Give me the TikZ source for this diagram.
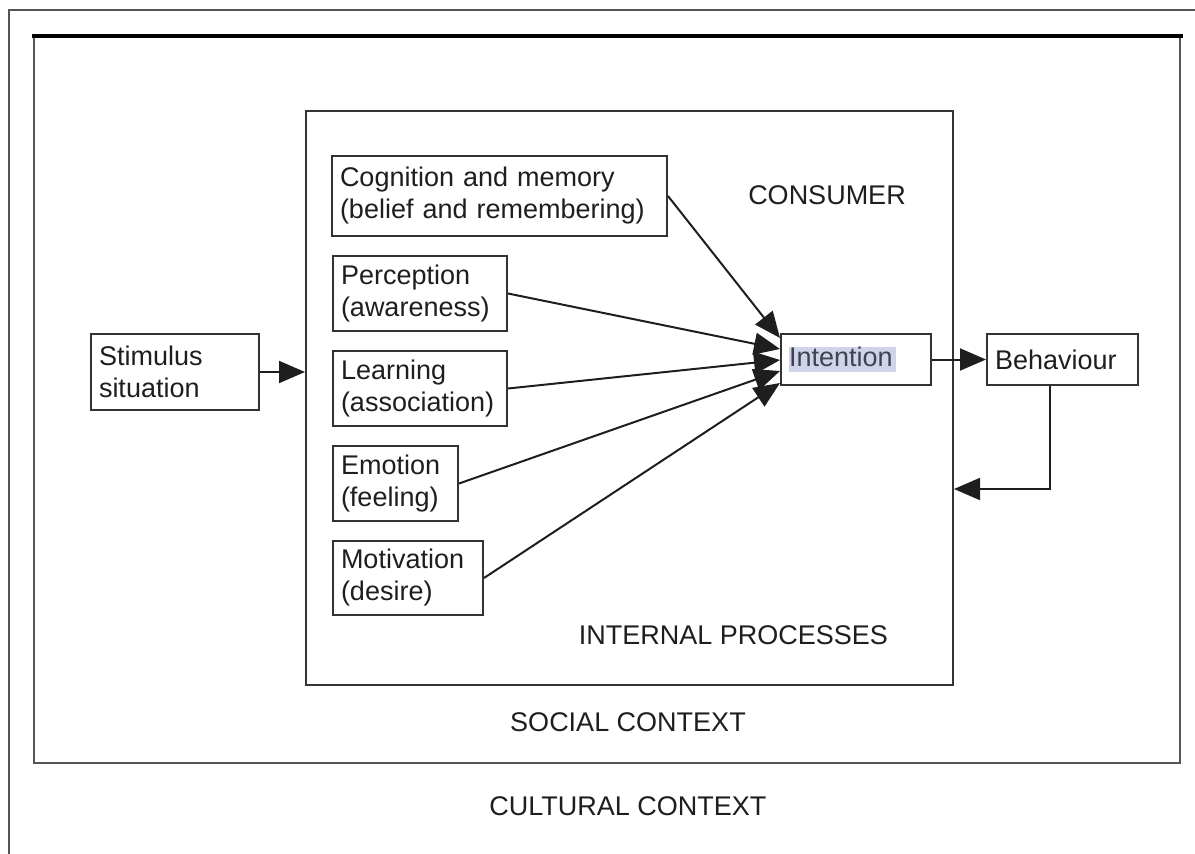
\documentclass[tikz,border=0pt]{standalone}
\usepackage{fontspec}
\setmainfont{Liberation Sans}
\usetikzlibrary{arrows.meta,calc}
\definecolor{ink}{HTML}{1E1E1E}
\definecolor{edge}{HTML}{333333}
\definecolor{frame}{HTML}{555555}
\definecolor{hl}{HTML}{D0D4EA}
\definecolor{hltext}{HTML}{3E4352}
\begin{document}
\begin{tikzpicture}[x=1pt,y=-1pt,
  txt/.style={font=\fontsize{27}{32}\selectfont, text=ink, inner sep=0pt},
  boxnode/.style={draw=edge, line width=2pt, rectangle, font=\fontsize{27}{32}\selectfont,
    text=ink, align=left, inner xsep=8pt, inner ysep=0pt},
  arr/.style={draw=ink, line width=2pt, -{Triangle[length=26pt,width=22pt]}}]
\useasboundingbox (0,0) rectangle (1195,854);
% outer (cultural) frame, running off the page
\draw[frame, line width=2pt] (9,854) -- (9,10) -- (1195,10);
% social context box
\node[draw=frame, line width=2.5pt, minimum width=1146pt, minimum height=726pt, inner sep=0pt] (soc) at (607,400) {};
\draw[black, line width=4pt] ([xshift=-1.25pt]soc.north west) -- ([xshift=1.25pt]soc.north east);
% consumer box
\node[draw=edge, line width=2pt, minimum width=647pt, minimum height=574pt, inner sep=0pt] (cons) at (629.5,398) {};
% boxes
\node[boxnode, text width=152pt, minimum height=76pt] (stim) at (175,372) {Stimulus\\situation};
\node[boxnode, text width=319pt, minimum height=80pt] (cog) at (499.5,196) {Cognition and memory\\(belief and remembering)};
\node[boxnode, text width=158pt, minimum height=75pt] (perc) at (420,293.5) {Perception\\(awareness)};
\node[boxnode, text width=158pt, minimum height=75pt] (learn) at (420,388.5) {Learning\\(association)};
\node[boxnode, text width=109pt, minimum height=75pt] (emo) at (395.5,483.5) {Emotion\\(feeling)};
\node[boxnode, text width=134pt, minimum height=74pt] (mot) at (408,578) {Motivation\\(desire)};
\node[boxnode, text width=134pt, minimum height=51pt] (int) at (856,359.5)
  {{\setlength\fboxsep{0pt}\colorbox{hl}{\color{hltext}\rule[-5pt]{0pt}{20pt}Intention\hspace{3pt}}}};
\node[boxnode, text width=135pt, minimum height=51pt] (beh) at (1062.5,359.5) {Behaviour};
% labels
\node[txt] (consumer) at (827,195) {CONSUMER};
\node[txt] (internal) at (733.5,635) {INTERNAL PROCESSES};
\node[txt] (social) at (628,722) {SOCIAL CONTEXT};
\node[txt] (cultural) at (628,806) {CULTURAL CONTEXT};
% connectors
\draw[arr] (stim.east) -- (cons.west |- stim.east);
\draw[arr] (cog.east) -- ([yshift=21.5pt]int.west);
\draw[arr] (perc.east) -- ([yshift=10.5pt]int.west);
\draw[arr] (learn.east) -- ([yshift=-0.5pt]int.west);
\draw[arr] (emo.east) -- ([yshift=-11.5pt]int.west);
\draw[arr] (mot.east) -- ([yshift=-23.5pt]int.west);
\draw[arr] (int.east) -- (beh.west);
\coordinate (fbk) at (953,489);
\draw[arr] ([xshift=-13pt]beh.south) |- (cons.east |- fbk);
\end{tikzpicture}
\end{document}
